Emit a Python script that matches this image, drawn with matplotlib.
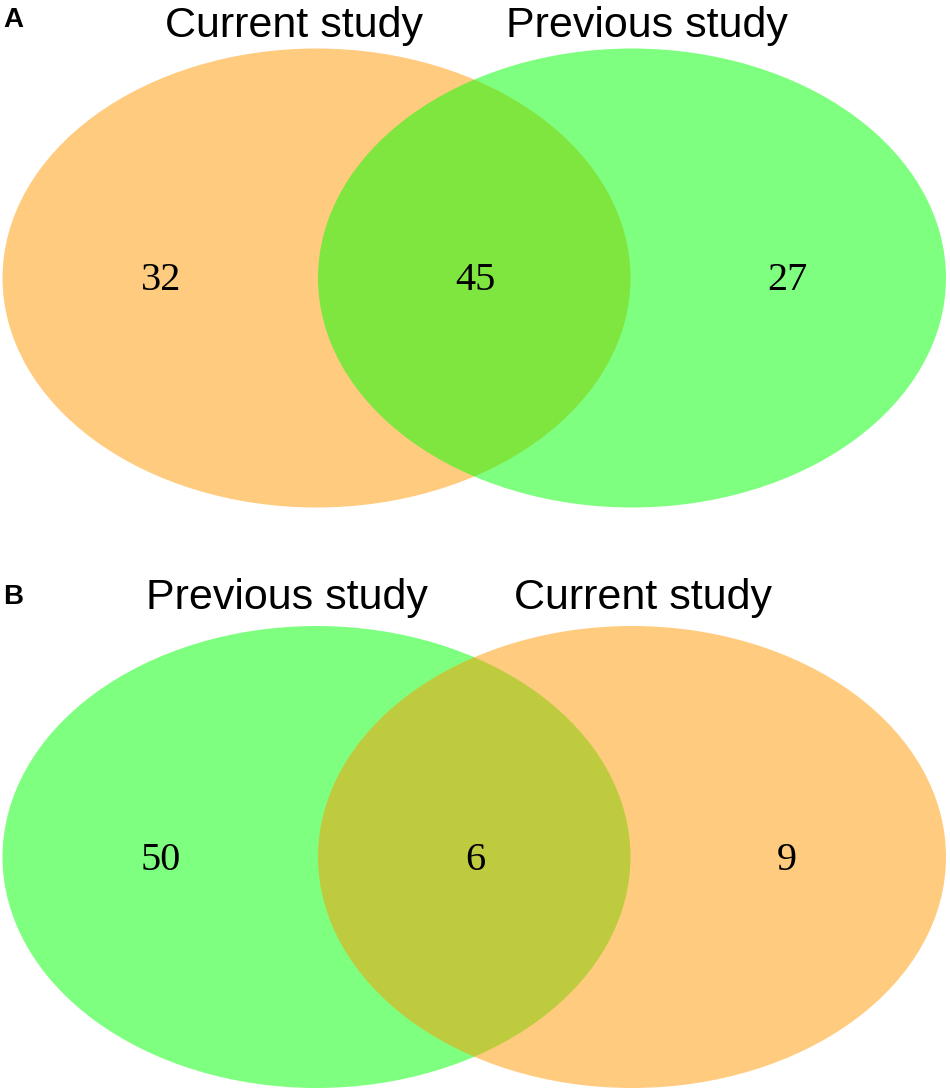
import matplotlib
matplotlib.use("Agg")
import matplotlib.pyplot as plt
from matplotlib.patches import Ellipse

# panel A: current study drawn first, previous study on top
a_names = ["Current study", "Previous study"]
a_counts = [32, 45, 27]   # left only, both, right only
a_colors = ["#FF9900", "#00FF00"]

# panel B: previous study drawn first, current study on top
b_names = ["Previous study", "Current study"]
b_counts = [50, 6, 9]
b_colors = ["#00FF00", "#FF9900"]

W, H = 950, 1091
fig = plt.figure(figsize=(W / 100, H / 100), dpi=100)
ax = fig.add_axes([0, 0, 1, 1])
ax.set_xlim(0, W)
ax.set_ylim(H, 0)
ax.axis('off')


def venn(ax, names, counts, colors, cy, h, label_y, label_x, num_y, letter, letter_y):
    # two equal ellipses, pixel geometry of the picture
    cxs = [316.5, 632.0]
    w = 628
    for cx, col in zip(cxs, colors):
        ax.add_patch(Ellipse((cx, cy), w, h, facecolor=col, edgecolor='none', alpha=0.5))
    for x, name in zip(label_x, names):
        ax.text(x, label_y, name, ha='center', va='baseline', fontsize=31,
                family='Liberation Sans', color='black')
    num_x = [161, 475, 787]
    for x, c in zip(num_x, counts):
        ax.text(x, num_y, str(c), ha='center', va='baseline', fontsize=29,
                family='Liberation Serif', color='black')
    ax.text(3, letter_y, letter, ha='left', va='baseline', fontsize=20,
            fontweight='bold', family='Liberation Sans')


venn(ax, a_names, a_counts, a_colors, cy=278, h=459, label_y=37,
     label_x=[294, 647], num_y=290, letter='A', letter_y=27)
venn(ax, b_names, b_counts, b_colors, cy=857, h=462, label_y=609,
     label_x=[287, 643], num_y=870, letter='B', letter_y=604)

plt.savefig("out.png", dpi=100)
